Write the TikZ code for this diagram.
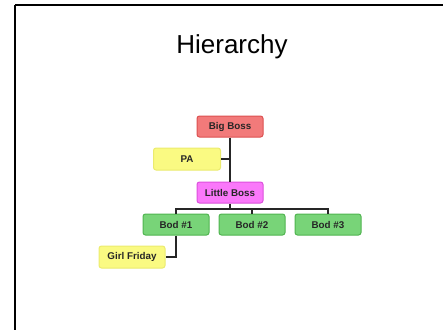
\documentclass[tikz,border=0pt]{standalone}
\usepackage{fontspec}
\setmainfont{Liberation Sans}
\begin{document}
\begin{tikzpicture}[x=1pt,y=-1pt,
  box/.style={draw, line width=1pt, rounded corners=2.5pt, minimum width=66pt, minimum height=21pt, inner sep=0pt, font=\bfseries\fontsize{9.8}{11}\selectfont, text=black!85},
  redbox/.style={box, fill={rgb,255:red,242;green,122;blue,122}, draw={rgb,255:red,220;green,80;blue,80}},
  yelbox/.style={box, fill={rgb,255:red,250;green,250;blue,130}, draw={rgb,255:red,235;green,235;blue,110}},
  magbox/.style={box, fill={rgb,255:red,250;green,120;blue,250}, draw={rgb,255:red,220;green,80;blue,220}},
  grnbox/.style={box, fill={rgb,255:red,120;green,212;blue,120}, draw={rgb,255:red,80;green,180;blue,80}},
  conn/.style={draw=black!85, line width=1.3pt}]
\useasboundingbox (0,0) rectangle (443,329);
\clip (0,0) rectangle (443,329);
\draw[line width=1.6pt] (15,5) -- (460,5);
\draw[line width=1.6pt] (15,5) -- (15,340);
\node[font=\fontsize{26}{30}\selectfont] (title) at (232,47) {Hierarchy};
\node[redbox] (big) at (230,126.5) {Big Boss};
\node[yelbox, minimum width=67pt, minimum height=22pt] (pa) at (187,159) {PA};
\node[magbox] (little) at (230,192.5) {Little Boss};
\node[grnbox] (b1) at (176,224.5) {Bod \#1};
\node[grnbox] (b2) at (252,224.5) {Bod \#2};
\node[grnbox] (b3) at (328,224.5) {Bod \#3};
\node[yelbox, minimum height=22pt] (gf) at (132,257) {Girl Friday};
\coordinate (jl) at (230,209);
\draw[conn] (big.south) -- (little.north);
\draw[conn] (pa.east) -- (pa.east -| big.south);
\draw[conn] (little.south) -- (jl);
\draw[conn] (b1.north) |- (jl) -| (b3.north);
\draw[conn] (b2.north) -- (b2.north |- jl);
\draw[conn] (b1.south) |- (gf.east);
\end{tikzpicture}
\end{document}
